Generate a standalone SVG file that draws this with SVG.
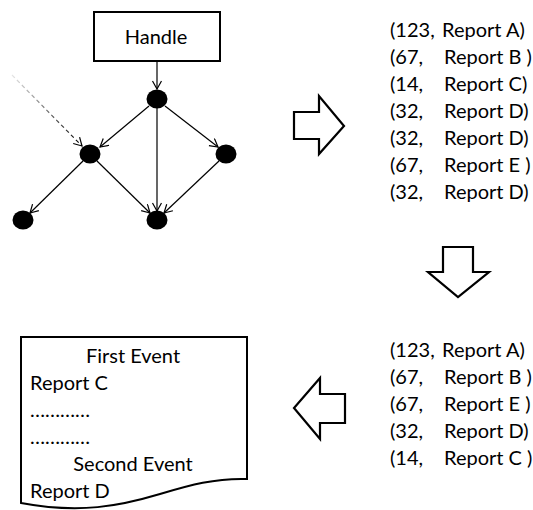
<svg xmlns="http://www.w3.org/2000/svg" width="533" height="510" viewBox="0 0 533 510">
<style>
text{font-family:Lato,"Liberation Sans",sans-serif;font-size:20px;fill:#000}
.edge{stroke:#000;stroke-width:1.2;fill:none}
.node{fill:#000}
.blk{fill:#fff;stroke:#000;stroke-width:2.2;stroke-linejoin:miter}
.mid{text-anchor:middle}
</style>
<defs>
<marker id="ah" markerUnits="userSpaceOnUse" markerWidth="12" markerHeight="12" refX="9" refY="5" orient="auto">
<path d="M1,0.5 L9,5 L1,9.5" fill="none" stroke="#000" stroke-width="1.2"/>
</marker>
<linearGradient id="dg" gradientUnits="userSpaceOnUse" x1="12" y1="75" x2="82" y2="146">
<stop offset="0" stop-color="#000" stop-opacity="0.1"/>
<stop offset="1" stop-color="#000" stop-opacity="1"/>
</linearGradient>
</defs>
<rect width="533" height="510" fill="#fff"/>

<g id="connectors">
<line class="edge" x1="157" y1="62" x2="157" y2="89" marker-end="url(#ah)"/>
<line class="edge" x1="149" y1="106" x2="100" y2="147" marker-end="url(#ah)"/>
<line class="edge" x1="157" y1="108" x2="157" y2="211" marker-end="url(#ah)"/>
<line class="edge" x1="165" y1="106" x2="218" y2="147" marker-end="url(#ah)"/>
<line class="edge" x1="83" y1="161" x2="30" y2="213" marker-end="url(#ah)"/>
<line class="edge" x1="97" y1="161" x2="150" y2="213" marker-end="url(#ah)"/>
<line class="edge" x1="219" y1="161" x2="164" y2="213" marker-end="url(#ah)"/>
<line x1="12" y1="75" x2="82" y2="146" stroke="url(#dg)" stroke-width="1.2" stroke-dasharray="4,3" marker-end="url(#ah)"/>
</g>

<g id="handle">
<rect x="94" y="12" width="126" height="49" fill="#fff" stroke="#000" stroke-width="2"/>
<text class="mid" x="156" y="44">Handle</text>
</g>
<g id="n1"><ellipse class="node" cx="157" cy="99" rx="10.5" ry="9.5"/></g>
<g id="n2"><ellipse class="node" cx="90" cy="154" rx="10.5" ry="9.5"/></g>
<g id="n3"><ellipse class="node" cx="226" cy="154" rx="10.5" ry="9.5"/></g>
<g id="n4"><ellipse class="node" cx="23" cy="220" rx="10.5" ry="9.5"/></g>
<g id="n5"><ellipse class="node" cx="157" cy="220" rx="10.5" ry="9.5"/></g>

<g id="arrow-right">
<polygon class="blk" points="294,112 319,112 319,96 344,126 319,154 319,139 294,139"/>
</g>
<g id="arrow-down">
<polygon class="blk" points="443,247 473,247 473,272 489,272 458,297 428,272 443,272"/>
</g>
<g id="arrow-left">
<polygon class="blk" points="345,394 320,394 320,378 294,408 320,439 320,423 345,423"/>
</g>

<g id="list1">
<text x="390" y="37">(123,</text><text x="442" y="37">Report A)</text>
<text x="390" y="64">(67,</text><text x="444" y="64" xml:space="preserve">Report B )</text>
<text x="390" y="91">(14,</text><text x="444" y="91">Report C)</text>
<text x="390" y="118">(32,</text><text x="444" y="118">Report D)</text>
<text x="390" y="145">(32,</text><text x="444" y="145">Report D)</text>
<text x="390" y="172">(67,</text><text x="444" y="172" xml:space="preserve">Report E )</text>
<text x="390" y="199">(32,</text><text x="444" y="199">Report D)</text>
</g>

<g id="list2">
<text x="390" y="357">(123,</text><text x="442" y="357">Report A)</text>
<text x="390" y="384">(67,</text><text x="444" y="384" xml:space="preserve">Report B )</text>
<text x="390" y="411">(67,</text><text x="444" y="411" xml:space="preserve">Report E )</text>
<text x="390" y="438">(32,</text><text x="444" y="438">Report D)</text>
<text x="390" y="465">(14,</text><text x="444" y="465" xml:space="preserve">Report C )</text>
</g>

<g id="document">
<path d="M21,337 L247,337 L247,479 C215,478 190,485 160,494 C120,506 80,514 21,503 Z" fill="#fff" stroke="#000" stroke-width="2"/>
<text class="mid" x="133" y="363">First Event</text>
<text x="30" y="390">Report C</text>
<text x="30" y="417">…………</text>
<text x="30" y="444">…………</text>
<text class="mid" x="133" y="471">Second Event</text>
<text x="30" y="498">Report D</text>
</g>
</svg>
